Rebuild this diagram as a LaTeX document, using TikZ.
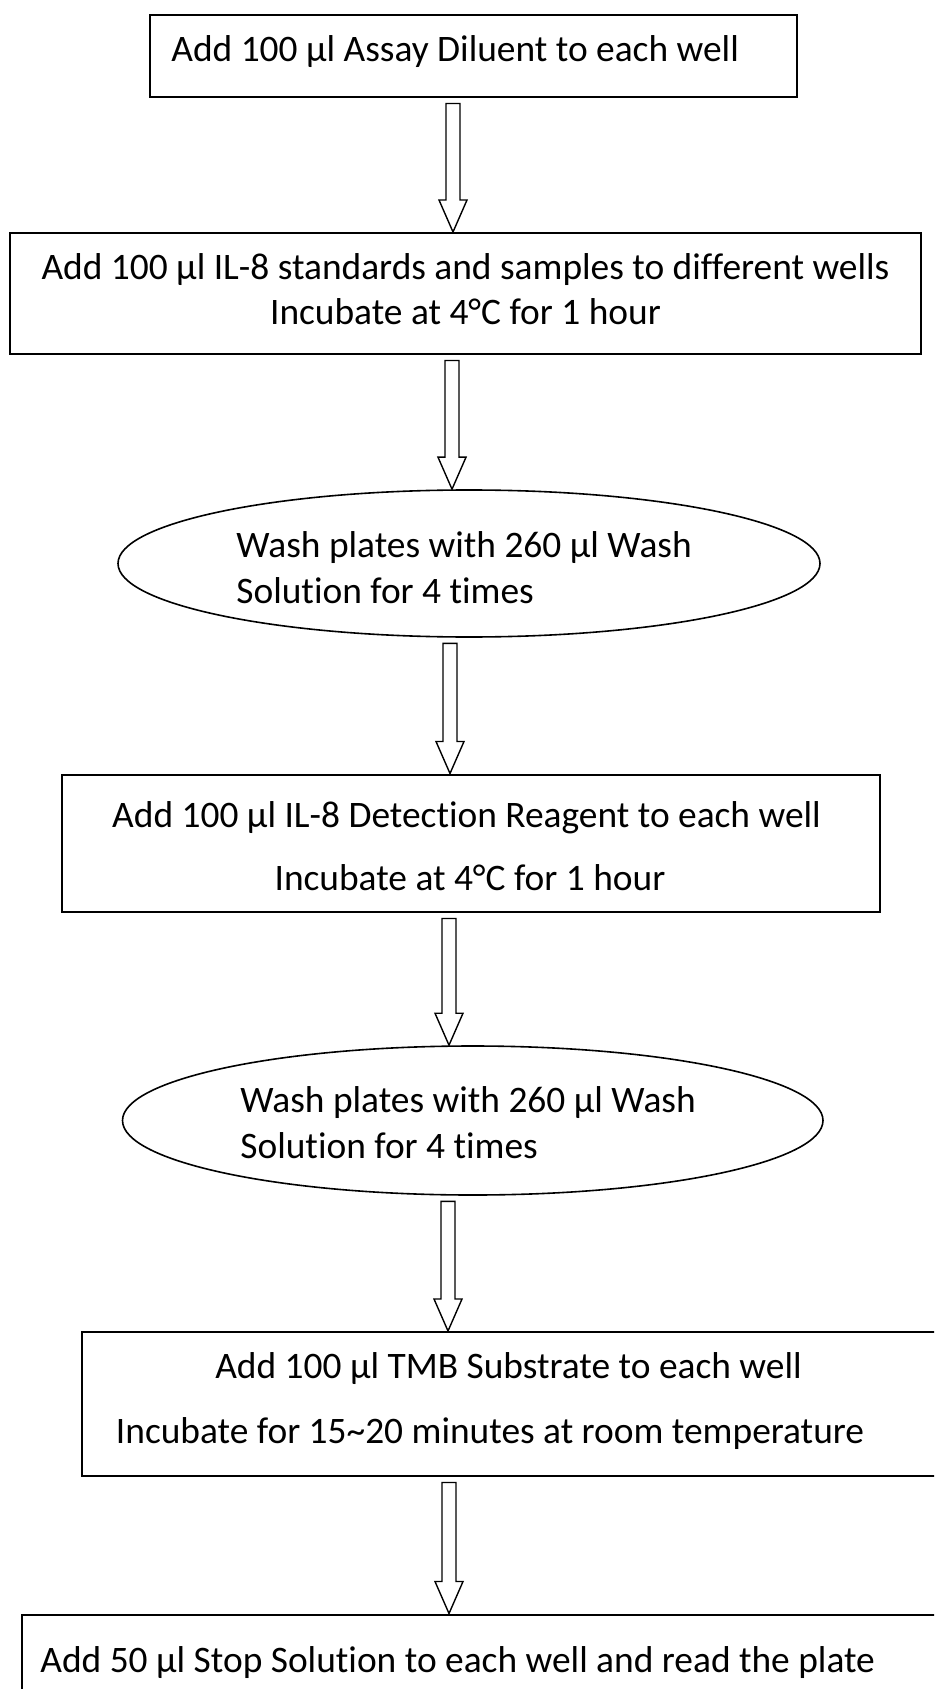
\documentclass[tikz,border=0pt]{standalone}
\usepackage{fontspec}
\setmainfont{Carlito}[RawFeature={-liga}]
\usetikzlibrary{shapes.geometric,calc}

% hollow block arrow: #1 = x position, #2 = upper node, #3 = lower node
\newcommand\blockarrow[3]{%
  \path (#1,0) coordinate (ax);
  \draw[hollowarrow] let \p1=(#2.south), \p2=(#3.north), \p3=(ax) in
    (\x3-3.5pt,\y1-2.75pt) -- (\x3-3.5pt,\y2+16pt) -- (\x3-7pt,\y2+16pt)
    -- (\x3,\y2) -- (\x3+7pt,\y2+16pt) -- (\x3+3.5pt,\y2+16pt)
    -- (\x3+3.5pt,\y1-2.75pt) -- cycle;}

\begin{document}
\begin{tikzpicture}[x=0.5pt,y=-0.5pt,
  box/.style={draw=black,line width=1pt,fill=white,inner sep=0pt,rectangle},
  oval/.style={draw=black,line width=0.8pt,fill=white,inner sep=0pt,ellipse},
  hollowarrow/.style={draw=black,line width=0.7pt,fill=white,line join=miter},
  txt/.style={inner sep=0pt,font=\fontsize{18.7}{22}\selectfont}]

\useasboundingbox (0,0) rectangle (934,1689);
\clip (0,0) rectangle (934,1689);
\fill[white] (0,0) rectangle (934,1689);

% steps
\node[box,minimum width=323.5pt,minimum height=41pt] (b1) at (473.5,56) {};
\node[box,minimum width=455.75pt,minimum height=60.5pt] (b2) at (465.25,293.5) {};
\node[oval,minimum width=351pt,minimum height=73.5pt] (e1) at (469,563.5) {};
\node[box,minimum width=409pt,minimum height=68.75pt] (b3) at (471,843.25) {};
\node[oval,minimum width=350.25pt,minimum height=74.5pt] (e2) at (472.75,1120.5) {};
\node[box,minimum width=439.2pt,minimum height=72pt] (b4) at (520.8,1404) {};
\node[box,minimum width=469pt,minimum height=52.75pt] (b5) at (491,1667.25) {};

% labels
\node[txt,anchor=base west] (t1) at (171,62) {Add 100 µl Assay Diluent to each well};
\node[txt,anchor=base] (t2a) at (465.5,280) {Add 100 µl IL-8 standards and samples to different wells};
\node[txt,anchor=base] (t2b) at (465.5,325) {Incubate at 4°C for 1 hour};
\node[txt,anchor=base west] (t3a) at (236,557) {Wash plates with 260 µl Wash};
\node[txt,anchor=base west] (t3b) at (236,603) {Solution for 4 times};
\node[txt,anchor=base] (t4a) at (466.5,827) {Add 100 µl IL-8 Detection Reagent to each well};
\node[txt,anchor=base] (t4b) at (470,890) {Incubate at 4°C for 1 hour};
\node[txt,anchor=base west] (t5a) at (240,1112) {Wash plates with 260 µl Wash};
\node[txt,anchor=base west] (t5b) at (240,1158) {Solution for 4 times};
\node[txt,anchor=base] (t6a) at (508.5,1378) {Add 100 µl TMB Substrate to each well};
\node[txt,anchor=base] (t6b) at (490,1443) {Incubate for 15\textasciitilde20 minutes at room temperature};
\node[txt,anchor=base west] (t7) at (40,1672) {Add 50 µl Stop Solution to each well and read the plate};

% connectors
\blockarrow{453}{b1}{b2}
\blockarrow{452}{b2}{e1}
\blockarrow{450}{e1}{b3}
\blockarrow{449}{b3}{e2}
\blockarrow{448}{e2}{b4}
\blockarrow{449}{b4}{b5}
\end{tikzpicture}
\end{document}
